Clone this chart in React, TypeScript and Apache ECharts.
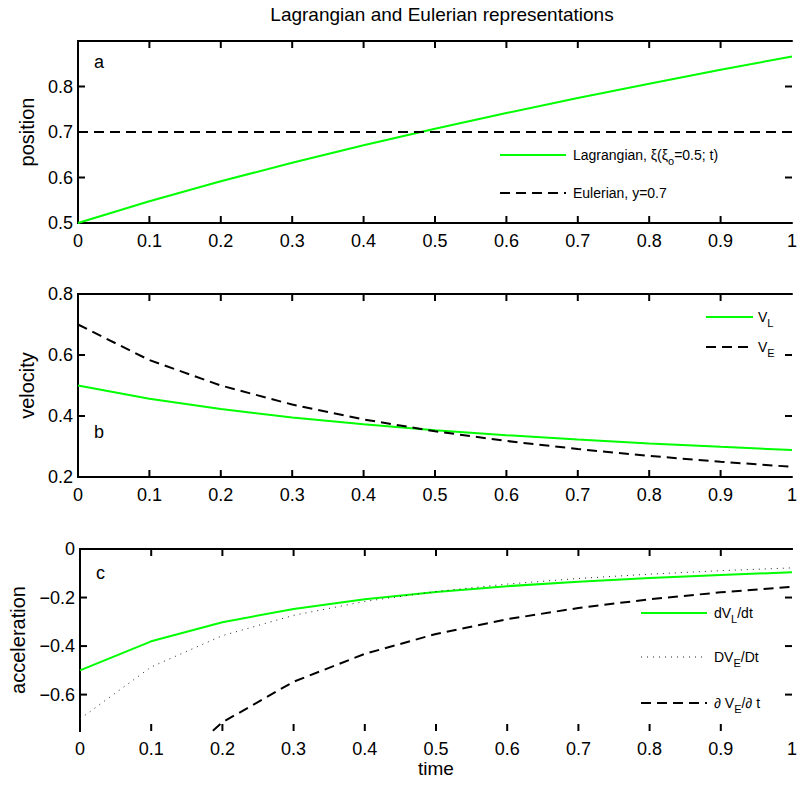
import React, { useEffect, useRef } from "react";
import * as echarts from "echarts";

// time samples
const time = [0, 0.1, 0.2, 0.3, 0.4, 0.5, 0.6, 0.7, 0.8, 0.9, 1];

// panel a: position
const posLagrangian = [0.5, 0.5477, 0.5916, 0.6325, 0.6708, 0.7071, 0.7416, 0.7746, 0.8062, 0.8367, 0.866];
const posEulerian = [0.7, 0.7, 0.7, 0.7, 0.7, 0.7, 0.7, 0.7, 0.7, 0.7, 0.7];

// panel b: velocity
const velL = [0.5, 0.4564, 0.4226, 0.3953, 0.3727, 0.3536, 0.3371, 0.3227, 0.3101, 0.2988, 0.2887];
const velE = [0.7, 0.5833, 0.5, 0.4375, 0.3889, 0.35, 0.3182, 0.2917, 0.2692, 0.25, 0.2333];

// panel c: acceleration
const accL = [-0.5, -0.3804, -0.3018, -0.2471, -0.207, -0.1768, -0.1532, -0.1345, -0.1193, -0.1067, -0.0962];
const accMatE = [-0.7, -0.4861, -0.3571, -0.2734, -0.216, -0.175, -0.1446, -0.1215, -0.1036, -0.0893, -0.0778];
const accPartE = [-1.4, -0.9722, -0.7143, -0.5469, -0.4321, -0.35, -0.2893, -0.2431, -0.2071, -0.1786, -0.1556];

// tick values
const xTickValues = [0.1, 0.2, 0.3, 0.4, 0.5, 0.6, 0.7, 0.8, 0.9];
const posTicks = [0.6, 0.7, 0.8];
const velTicks = [0.4, 0.6];
const accTicks = [-0.6, -0.4, -0.2, 0];

const FONT = "'Liberation Sans', Arial, Helvetica, sans-serif";
const GREEN = "#00ff00";

const pairs = (ys: number[]) => time.map((t, i) => [t, ys[i]]);
const fmt = (v: number) => {
  const r = +Number(v).toFixed(2);
  return r < 0 ? "\u2212" + String(-r) : String(r);
};

export default function App() {
  const ref = useRef<HTMLDivElement>(null);
  useEffect(() => {
    if (!ref.current) return;
    const chart = echarts.init(ref.current, undefined, { renderer: "svg" });

    const grids = [
      { left: 78, right: 4, top: 41, height: 182 },
      { left: 78, right: 4, top: 294, height: 183 },
      { left: 78, right: 4, top: 549, height: 182 },
    ];

    const mkLine = () => ({ show: true, lineStyle: { color: "#000", width: 2 } });

    const xAxes: any[] = [];
    const yAxes: any[] = [];
    const yCfg: any[] = [
      { min: 0.5, max: 0.9, interval: 0.1, name: "position", gap: 40, hideMax: true, ticks: posTicks },
      { min: 0.2, max: 0.8, interval: 0.2, name: "velocity", gap: 40, hideMax: false, ticks: velTicks },
      { min: -0.75, max: 0, interval: 0.25, name: "acceleration", gap: 52, hideMax: false, custom: accTicks, ticks: accTicks.slice(0, 3) },
    ];
    grids.forEach((_, i) => {
      xAxes.push({
        type: "value",
        gridIndex: i,
        position: "bottom",
        min: 0,
        max: 1,
        interval: 0.1,
        axisLine: mkLine(),
        axisTick: { show: false },
        splitLine: { show: false },
        axisLabel: { color: "#000", fontSize: 18, fontFamily: FONT, margin: 9, formatter: (v: number) => fmt(v) },
        name: i === 2 ? "time" : "",
        nameLocation: "middle",
        nameGap: 28,
        nameTextStyle: { color: "#000", fontSize: 19, fontFamily: FONT },
      });
      xAxes.push({
        type: "value",
        gridIndex: i,
        position: "top",
        min: 0,
        max: 1,
        interval: 0.1,
        axisLine: mkLine(),
        axisTick: { show: false },
        splitLine: { show: false },
        axisLabel: { show: false },
      });
      const c = yCfg[i];
      const label: any = {
        color: "#000",
        fontSize: 18,
        fontFamily: FONT,
        margin: 5,
        formatter: (v: number) => (c.hideMax && Math.abs(v - c.max) < 1e-9 ? "" : fmt(v)),
      };
      if (c.custom) label.customValues = c.custom.slice();
      yAxes.push({
        type: "value",
        gridIndex: i,
        position: "left",
        min: c.min,
        max: c.max,
        interval: c.interval,
        axisLine: mkLine(),
        axisTick: { show: false },
        splitLine: { show: false },
        axisLabel: label,
        name: c.name,
        nameLocation: "middle",
        nameGap: c.gap,
        nameRotate: 90,
        nameTextStyle: { color: "#000", fontSize: 20, fontFamily: FONT },
      });
      yAxes.push({
        type: "value",
        gridIndex: i,
        position: "right",
        min: c.min,
        max: c.max,
        interval: c.interval,
        axisLine: mkLine(),
        axisTick: { show: false },
        splitLine: { show: false },
        axisLabel: { show: false },
      });
    });

    const line = (name: string, xi: number, ys: number[], color: string, width: number, type: any, z = 2) => ({
      name,
      type: "line",
      xAxisIndex: xi,
      yAxisIndex: xi,
      data: pairs(ys),
      symbol: "none",
      clip: true,
      z,
      lineStyle: { color, width, type },
    });

    // inward tick marks on all four sides, placed through the axes' own scales
    const TL = 7;
    const tickSeries = (i: number) => {
      const c = yCfg[i];
      const data = [
        ...xTickValues.map((v) => [v, c.min, 0]),
        ...c.ticks.map((v: number) => [0, v, 1]),
      ];
      return {
        type: "custom",
        xAxisIndex: 2 * i,
        yAxisIndex: 2 * i,
        silent: true,
        z: 5,
        data,
        renderItem: (_p: any, api: any) => {
          const a = api.value(0);
          const b = api.value(1);
          const kind = api.value(2);
          const st = { stroke: "#000", lineWidth: 2 };
          if (kind === 0) {
            const p = api.coord([a, c.min]);
            const q = api.coord([a, c.max]);
            return {
              type: "group",
              children: [
                { type: "line", shape: { x1: p[0], y1: p[1], x2: p[0], y2: p[1] - TL }, style: st },
                { type: "line", shape: { x1: q[0], y1: q[1], x2: q[0], y2: q[1] + TL }, style: st },
              ],
            };
          }
          const l = api.coord([0, b]);
          const r = api.coord([1, b]);
          return {
            type: "group",
            children: [
              { type: "line", shape: { x1: l[0], y1: l[1], x2: l[0] + TL, y2: l[1] }, style: st },
              { type: "line", shape: { x1: r[0], y1: r[1], x2: r[0] - TL, y2: r[1] }, style: st },
            ],
          };
        },
      };
    };

    const DASH = [10, 6];
    const DOT = [1, 5];

    const sub = { fontSize: 11, fontFamily: FONT, fill: "#000", padding: [12, 0, 0, 0] };
    const legText = (x: number, y: number, text: string) => ({
      type: "text",
      x,
      y,
      style: {
        text,
        fill: "#000",
        fontSize: 14,
        fontFamily: FONT,
        verticalAlign: "middle",
        align: "left",
        rich: { sub, n: { fontSize: 14, fontFamily: FONT, fill: "#000" } },
      },
    });
    const legLine = (x1: number, x2: number, y: number, stroke: string, width: number, dash?: number[]) => ({
      type: "line",
      shape: { x1, y1: y, x2, y2: y },
      style: { stroke, lineWidth: width, lineDash: dash || null },
    });
    const letter = (x: number, y: number, t: string) => ({
      type: "text",
      x,
      y,
      style: { text: t, fill: "#000", fontSize: 18, fontFamily: FONT, verticalAlign: "middle" },
    });

    chart.setOption({
      animation: false,
      backgroundColor: "#fff",
      title: {
        text: "Lagrangian and Eulerian representations",
        left: 437,
        top: 0,
        textAlign: "center",
        textStyle: { color: "#000", fontSize: 19, fontWeight: "normal", fontFamily: FONT },
      },
      grid: grids,
      xAxis: xAxes,
      yAxis: yAxes,
      series: [
        line("Lagrangian", 0, posLagrangian, GREEN, 2, "solid"),
        line("Eulerian", 0, posEulerian, "#000", 2, DASH),
        line("V_L", 2, velL, GREEN, 2, "solid"),
        line("V_E", 2, velE, "#000", 2, DASH),
        line("dV_L/dt", 4, accL, GREEN, 2, "solid"),
        line("DV_E/Dt", 4, accMatE, "#222", 1, DOT, 3),
        line("dV_E/dt partial", 4, accPartE, "#000", 2, DASH, 3),
        tickSeries(0),
        tickSeries(1),
        tickSeries(2),
      ],
      graphic: [
        letter(94, 62, "a"),
        letter(94, 432, "b"),
        letter(96, 573, "c"),
        legLine(500, 566, 155, GREEN, 2),
        legText(573, 155, "{n|Lagrangian, ξ(ξ}{sub|o}{n|=0.5; t)}"),
        legLine(500, 566, 193, "#000", 2, DASH),
        legText(573, 193, "{n|Eulerian, y=0.7}"),
        legLine(706, 753, 317, GREEN, 2),
        legText(758, 317, "{n|V}{sub|L}"),
        legLine(706, 753, 347, "#000", 2, DASH),
        legText(758, 347, "{n|V}{sub|E}"),
        legLine(641, 707, 613, GREEN, 2),
        legText(714, 613, "{n|dV}{sub|L}{n|/dt}"),
        legLine(641, 707, 657, "#222", 1, DOT),
        legText(714, 657, "{n|DV}{sub|E}{n|/Dt}"),
        legLine(641, 707, 703, "#000", 2, DASH),
        legText(714, 703, "{n|∂ V}{sub|E}{n|/∂ t}"),
      ],
    });
    return () => chart.dispose();
  }, []);
  return <div ref={ref} style={{ position: "fixed", left: 0, top: 0, width: 800, height: 791, background: "#fff" }} />;
}
